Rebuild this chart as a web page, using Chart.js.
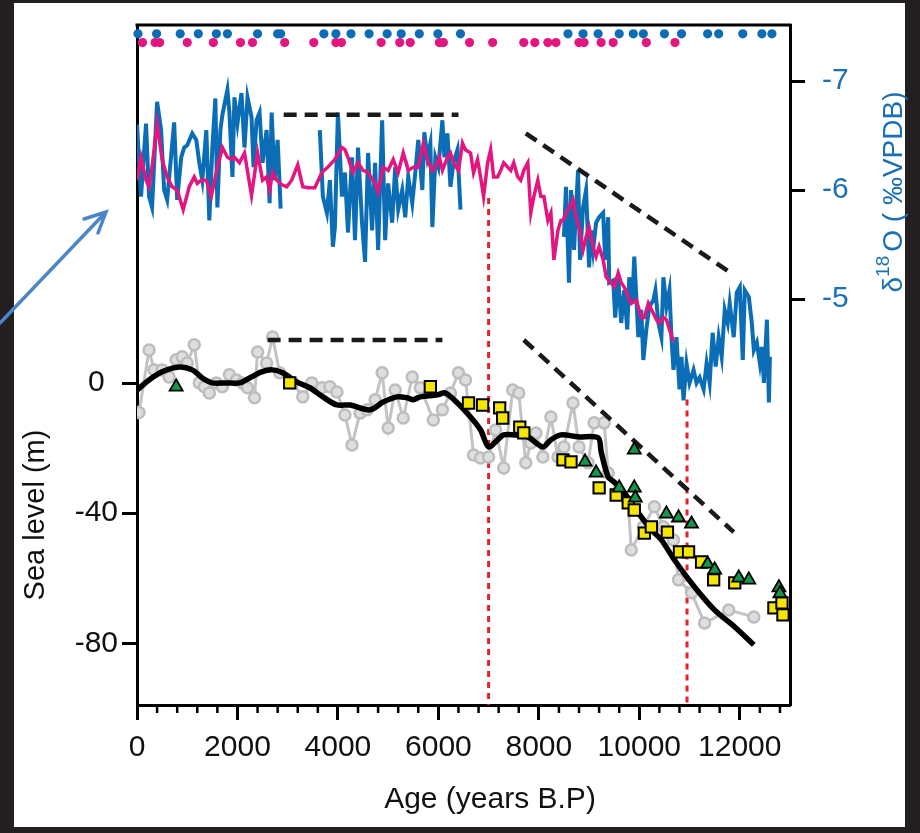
<!DOCTYPE html>
<html>
<head>
<meta charset="utf-8">
<script src="https://cdn.jsdelivr.net/npm/chart.js@4.4.0/dist/chart.umd.min.js"></script>
<style>
  html, body { margin: 0; padding: 0; background: #231f20; }
  #paper { position: absolute; left: 14px; top: 3px; width: 891px; height: 824px; background: #fff; }
  #chart { position: absolute; left: 0; top: 0; }
</style>
</head>
<body>
<div id="paper"></div>
<canvas id="chart" width="920" height="833"></canvas>
<script>
// --- data ---
const xTicks = [0, 2000, 4000, 6000, 8000, 10000, 12000];
const xMinorStep = 400;
const seaTicks = [-80, -40, 0];
const d18oTicks = [-7, -6, -5];

// speleothem d18O (blue), null = gap in record
const blueAge = [
  0, 80, 180, 240, 300, 400, 480, 540, 600, 740,
  800, 880, 940, 1000, 1100, 1180, 1240, 1300, 1380, 1440,
  1500, 1560, 1600, 1660, 1700, 1800, 1840, 1900, 1940, 2000,
  2080, 2140, 2200, 2280, 2320, 2380, 2440, 2500, 2580, 2640,
  2680, 2740, 2800, 2860, 3250, 3640, 3700, 3780, 3840, 3900,
  3940, 4000, 4080, 4140, 4200, 4280, 4340, 4400, 4480, 4540,
  4600, 4680, 4740, 4800, 4880, 4940, 5000, 5080, 5140, 5200,
  5280, 5340, 5400, 5480, 5540, 5600, 5680, 5720, 5780, 5840,
  5880, 5940, 6000, 6080, 6120, 6180, 6240, 6300, 6380, 6440,
  7500, 8500, 8540, 8600, 8640, 8700, 8780, 8820, 8880, 8940,
  9000, 9040, 9080, 9140, 9200, 9280, 9320, 9380, 9400, 9480,
  9520, 9580, 9640, 9700, 9760, 9800, 9860, 9900, 9980, 10040,
  10080, 10140, 10200, 10280, 10320, 10380, 10440, 10480, 10540, 10600,
  10640, 10680, 10740, 10800, 10840, 10880, 10940, 11000, 11080, 11140,
  11200, 11280, 11340, 11400, 11460, 11520, 11580, 11640, 11700, 11760,
  11800, 11880, 11940, 12000, 12060, 12100, 12180, 12240, 12280, 12340,
  12400, 12440, 12480, 12540, 12580, 12600
];
const blueD18O = [
  -6.60, -5.94, -6.61, -5.94, -5.84, -6.81, -6.55, -6.00, -5.91, -6.62,
  -5.91, -6.30, -6.39, -6.41, -6.52, -6.46, -6.25, -6.09, -6.55, -5.72,
  -6.39, -6.84, -5.84, -6.55, -6.69, -6.92, -6.71, -6.12, -6.85, -6.61,
  -6.89, -6.39, -6.85, -6.67, -6.21, -6.64, -6.71, -6.25, -6.55, -5.88,
  -6.71, -6.09, -6.46, -5.83, null, -6.55, -5.94, -5.79, -6.09, -5.48,
  -5.66, -6.71, -5.94, -6.16, -5.61, -6.30, -5.54, -6.39, -5.70, -5.34,
  -6.34, -5.63, -6.25, -5.45, -6.64, -5.54, -6.06, -5.70, -6.21, -5.82,
  -6.00, -5.75, -6.12, -5.88, -6.16, -6.46, -6.00, -6.53, -6.30, -6.43,
  -5.66, -6.30, -6.21, -6.64, -6.30, -6.52, -6.03, -6.25, -6.37, -5.82,
  null, -5.57, -6.03, -5.15, -6.00, -5.45, -6.18, -5.36, -5.84, -6.00,
  -5.29, -5.63, -5.45, -5.70, -5.75, -5.79, -5.36, -5.75, -5.15, -5.17,
  -4.83, -5.20, -4.78, -5.08, -4.72, -5.20, -4.96, -5.39, -4.65, -4.90,
  -4.44, -4.72, -4.93, -4.99, -5.08, -4.78, -4.65, -5.20, -4.93, -5.08,
  -4.65, -4.35, -4.65, -4.17, -4.47, -4.07, -4.41, -4.23, -4.35, -4.23,
  -4.28, -4.17, -4.41, -4.23, -4.69, -4.38, -4.65, -4.47, -4.90, -4.78,
  -4.96, -4.65, -5.06, -5.11, -4.44, -5.08, -5.02, -4.78, -4.53, -4.60,
  -4.41, -4.56, -4.23, -4.81, -4.05, -4.47
];

// second d18O record (magenta)
const pinkAge = [
  0, 80, 180, 240, 300, 400, 500, 600, 700, 800,
  920, 1040, 1140, 1200, 1280, 1380, 1480, 1600, 1700, 1800,
  1880, 1940, 2040, 2140, 2280, 2400, 2500, 2580, 2640, 2700,
  2780, 2880, 2980, 3080, 3200, 3300, 3400, 3540, 3680, 3800,
  3940, 4080, 4140, 4200, 4300, 4400, 4500, 4600, 4740, 4800,
  4900, 5000, 5100, 5200, 5300, 5400, 5500, 5600, 5700, 5800,
  5880, 5940, 6020, 6080, 6180, 6240, 6300, 6400, 6480, 6540,
  6640, 6700, 6780, 6840, 6900, 6980, 7040, 7100, 7180, 7240,
  7300, 7380, 7440, 7500, 7580, 7640, 7700, 7780, 7840, 7900,
  7980, 8040, 8100, 8180, 8240, 8300, 8380, 8440, 8480, 8580,
  8680, 8740, 8800, 8880, 8940, 9000, 9080, 9140, 9200, 9280,
  9340, 9400, 9500, 9580, 9640, 9700, 9780, 9840, 9940, 10040,
  10100, 10180, 10280, 10340, 10400, 10480, 10540, 10600, 10680
];
const pinkD18O = [
  -6.09, -6.30, -6.09, -6.03, -6.21, -6.61, -6.28, -6.12, -6.03, -6.00,
  -5.82, -6.03, -6.12, -6.06, -6.09, -6.09, -5.94, -6.21, -6.39, -6.30,
  -6.28, -6.30, -6.25, -6.34, -5.95, -6.34, -6.09, -6.12, -6.00, -6.16,
  -6.09, -6.05, -6.03, -6.09, -6.23, -6.03, -6.02, -6.02, -6.16, -6.21,
  -6.28, -6.39, -6.37, -6.30, -6.16, -6.25, -6.18, -6.16, -6.06, -5.98,
  -6.21, -6.18, -6.28, -6.16, -6.34, -6.18, -6.21, -6.21, -6.43, -6.25,
  -6.18, -6.21, -6.30, -6.18, -6.30, -6.34, -6.25, -6.18, -6.43, -6.37,
  -6.34, -6.16, -6.28, -6.12, -5.94, -6.25, -6.37, -6.12, -6.12, -6.18,
  -6.25, -6.21, -6.18, -6.25, -6.12, -6.09, -6.18, -6.25, -5.79, -5.94,
  -6.09, -5.94, -5.94, -5.72, -5.79, -5.36, -5.63, -5.72, -5.72, -5.82,
  -5.91, -5.75, -5.66, -5.45, -5.57, -5.66, -5.48, -5.39, -5.48, -5.36,
  -5.20, -5.17, -5.11, -5.24, -5.15, -5.11, -5.02, -4.96, -4.99, -4.83,
  -4.83, -4.96, -4.87, -4.81, -4.78, -4.83, -4.81, -4.72, -4.61
];

// sea level reconstruction (grey circles)
const seaAge = [
  40, 240, 340, 500, 640, 780, 900, 1000, 1140, 1240,
  1340, 1440, 1580, 1700, 1840, 1980, 2100, 2200, 2340, 2400,
  2580, 2700, 2840, 3100, 3300, 3480, 3680, 3840, 3980, 4140,
  4280, 4440, 4580, 4740, 4880, 5000, 5140, 5300, 5480, 5640,
  5900, 6080, 6240, 6400, 6540, 6700, 6840, 7000, 7140, 7300,
  7480, 7600, 7740, 7840, 7940, 8080, 8240, 8380, 8500, 8680,
  8800, 8980, 9100, 9300, 9380, 9580, 9780, 9840, 10080, 10300,
  10480, 10680, 10780, 11040, 11300, 11780, 12280
];
const seaLevel = [
  -9.0, 10.2, 4.1, 4.1, 1.9, 7.2, 8.1, 6.2, 11.8, 0.1,
  -1.1, -3.0, 0.1, -1.1, 2.6, 1.0, 0.1, -1.4, -4.5, 9.6,
  6.2, 14.2, 3.2, 0.1, -4.2, 0.1, -1.4, -1.1, -2.7, -9.8,
  -19.0, -9.2, -8.2, -5.1, 3.2, -13.8, -2.1, -10.7, 1.9, -1.4,
  -11.3, -8.2, -3.0, 3.2, 1.0, -22.1, -23.0, -22.7, -14.4, -26.1,
  -2.1, -3.0, -24.5, -18.4, -15.3, -22.7, -10.4, -22.7, -19.6, -6.1,
  -19.6, -24.5, -12.2, -12.2, -27.6, -33.7, -36.8, -51.3, -44.2, -38.0,
  -44.2, -48.2, -60.5, -64.5, -73.8, -69.8, -71.9
];

// smoothed sea level (black)
const smoothAge = [
  0, 240, 500, 840, 1100, 1300, 1500, 1780, 2040, 2240,
  2480, 2700, 2900, 3180, 3440, 3700, 3980, 4240, 4640, 4900,
  5180, 5380, 5500, 5640, 5980, 6140, 6380, 6640, 6840, 7000,
  7180, 7300, 7500, 7780, 8080, 8240, 8440, 8780, 9180, 9240,
  9380, 9500, 9700, 9980, 10240, 10440, 10700, 11100, 11500, 11900,
  12280
];
const smoothLevel = [
  -2.1, 1.0, 3.5, 5.0, 4.1, 1.6, 0.1, 0.1, 0.1, 1.6,
  3.5, 4.1, 3.2, 0.4, -1.4, -4.2, -6.7, -6.7, -8.2, -5.8,
  -4.2, -4.5, -5.1, -4.2, -3.6, -3.0, -6.1, -10.4, -14.4, -19.6,
  -17.4, -15.9, -15.9, -16.5, -19.6, -17.4, -15.9, -16.5, -16.8, -21.1,
  -28.8, -30.4, -33.7, -39.9, -45.1, -48.2, -54.4, -62.7, -69.8, -75.0,
  -80.5
];

// yellow squares
const squareAge = [
  3040, 5840, 6600, 6880, 7220, 7280, 7620, 7700, 8480, 8640,
  9200, 9540, 9780, 9900, 10100, 10240, 10560, 10800, 10980, 11240,
  11480, 11900, 12680, 12840, 12860
];
const squareLevel = [
  0.1, -1.1, -6.1, -6.7, -7.6, -10.7, -13.5, -15.3, -23.6, -24.2,
  -32.2, -34.4, -36.8, -39.0, -46.1, -44.2, -45.8, -51.9, -51.9, -55.0,
  -60.5, -61.4, -69.1, -67.6, -71.3
];

// green triangles
const triAge = [
  780, 8920, 9140, 9600, 9900, 9920, 9900, 10540, 10780, 11040,
  11360, 11500, 11980, 12180, 12780, 12800
];
const triLevel = [
  -1.1, -24.2, -27.6, -32.2, -32.2, -35.3, -20.5, -40.2, -41.4, -43.3,
  -55.6, -57.4, -59.9, -60.5, -62.9, -64.7
];

// dating points along the top
const blueDates = [20, 390, 860, 1220, 1580, 1800, 2400, 2800, 2860, 3720, 3960, 4260, 4620, 4980, 5260, 5620, 5990, 6440,
  8580, 8880, 9180, 9600, 9880, 10080, 10500, 10840, 11360, 11580, 12060, 12440, 12640];
const pinkDates = [110, 360, 450, 1000, 1520, 2060, 2300, 2940, 3520, 3960, 4070, 4860, 5230, 5440, 6020, 6100, 6620, 7080,
  7700, 7920, 8180, 8340, 8800, 8900, 9240, 9480, 10140, 10710];

// dashed trend lines
const trendD18OHolo = { age: [2920, 6400], val: [-6.69, -6.69] };
const trendD18ODegl = { age: [7740, 11880], val: [-6.52, -5.22] };
const trendSeaHolo = { age: [2600, 6080], val: [13.3, 13.3] };
const trendSeaDegl = { age: [7700, 11880], val: [13.3, -45.8] };

// red dotted event markers
const eventAge = [7000, 10950];
const eventTop = [57, -5];

// --- chart ---
const FONT = '"Liberation Sans", Arial, sans-serif';
const BLUE = '#0b6db5';
const PINK = '#e3157f';
const pts = (xs, ys) => xs.map((x, i) => ({ x: x, y: ys[i] }));

const seaMin = -99.0, seaMax = 110.2;
const d18Min = -7.514, d18Max = -1.275;

function trend(t, axis) {
  return {
    data: pts(t.age, t.val), yAxisID: axis, showLine: true, pointRadius: 0,
    borderColor: '#1a1a1a', borderWidth: 4.5, borderDash: [13, 8], borderCapStyle: 'butt'
  };
}
function eventLine(i) {
  return {
    data: [{ x: eventAge[i], y: eventTop[i] }, { x: eventAge[i], y: seaMin }], yAxisID: 'y',
    showLine: true, pointRadius: 0, borderColor: '#e8202a', borderWidth: 3, borderDash: [6, 5]
  };
}
function noPadY(s, w) {
  s.width = w;
  s.paddingTop = 0;
  s.paddingBottom = 0;
}

const decor = {
  id: 'decor',
  beforeDatasetsDraw(chart) {
    const { ctx, chartArea: a, scales: { x } } = chart;
    ctx.save();
    ctx.strokeStyle = '#000';
    ctx.lineWidth = 3;
    ctx.beginPath();
    ctx.moveTo(a.left - 1.5, a.top);
    ctx.lineTo(a.right + 1.5, a.top);
    ctx.stroke();
    ctx.lineWidth = 2.5;
    for (let v = xMinorStep; v < x.max; v += xMinorStep) {
      if (v % 2000 === 0) continue;
      const px = x.getPixelForValue(v);
      ctx.beginPath();
      ctx.moveTo(px, a.bottom);
      ctx.lineTo(px, a.bottom + 8);
      ctx.stroke();
    }
    ctx.restore();
  },
  afterDraw(chart) {
    const { ctx } = chart;
    ctx.save();
    ctx.textAlign = 'center';
    ctx.textBaseline = 'middle';
    ctx.fillStyle = '#111';
    ctx.font = '30px ' + FONT;
    ctx.fillText('Age (years B.P)', 490, 800);

    ctx.save();
    ctx.translate(36, 515);
    ctx.rotate(-Math.PI / 2);
    ctx.font = '29px ' + FONT;
    ctx.fillText('Sea level (m)', 0, 0);
    ctx.restore();

    // right axis title with superscript
    ctx.save();
    ctx.translate(892, 192);
    ctx.rotate(-Math.PI / 2);
    ctx.fillStyle = '#1b6fb3';
    ctx.textAlign = 'left';
    ctx.textBaseline = 'alphabetic';
    const big = '28px ' + FONT, small = '19px ' + FONT;
    const parts = [['\u03B4', big, 0], ['18', small, -13], ['O ( \u2030VPDB)', big, 0]];
    let w = 0;
    parts.forEach(p => { ctx.font = p[1]; w += ctx.measureText(p[0]).width + (p[0] === '18' ? 4 : 0); });
    let cx = -w / 2;
    parts.forEach(p => {
      ctx.font = p[1];
      ctx.fillText(p[0], cx, 10 + p[2]);
      cx += ctx.measureText(p[0]).width + (p[0] === '18' ? 4 : 0);
    });
    ctx.restore();

    // blue arrow pointing at the record
    ctx.strokeStyle = '#4a86c8';
    ctx.lineWidth = 3.5;
    ctx.lineCap = 'round';
    ctx.beginPath();
    ctx.moveTo(0, 323);
    ctx.lineTo(105, 213);
    ctx.moveTo(84, 219);
    ctx.lineTo(106, 212);
    ctx.lineTo(98, 233);
    ctx.stroke();
    ctx.restore();
  }
};

new Chart(document.getElementById('chart'), {
  type: 'scatter',
  data: {
    datasets: [
      { data: blueDates.map(a => ({ x: a, y: 107.5 })), yAxisID: 'y', pointRadius: 4.6, pointBackgroundColor: BLUE, pointBorderWidth: 0, clip: false },
      { data: pinkDates.map(a => ({ x: a, y: 104.8 })), yAxisID: 'y', pointRadius: 4.6, pointBackgroundColor: PINK, pointBorderWidth: 0, clip: false },
      { data: pts(triAge, triLevel), yAxisID: 'y', pointStyle: 'triangle', pointRadius: 7.5, pointBackgroundColor: '#14964a', pointBorderColor: '#000', pointBorderWidth: 1.8, clip: false },
      { data: pts(squareAge, squareLevel), yAxisID: 'y', pointStyle: 'rect', pointRadius: 8, pointBackgroundColor: '#f4e600', pointBorderColor: '#000', pointBorderWidth: 2, clip: false },
      trend(trendD18OHolo, 'y2'),
      trend(trendD18ODegl, 'y2'),
      trend(trendSeaHolo, 'y'),
      trend(trendSeaDegl, 'y'),
      { data: pts(smoothAge, smoothLevel), yAxisID: 'y', showLine: true, pointRadius: 0, borderColor: '#000', borderWidth: 5.5, tension: 0.3 },
      { data: pts(seaAge, seaLevel), yAxisID: 'y', showLine: true, borderColor: '#c3c3c5', borderWidth: 3,
        pointRadius: 5.5, pointBackgroundColor: '#dedee0', pointBorderColor: '#bdbdbf', pointBorderWidth: 2.5 },
      eventLine(0),
      eventLine(1),
      { data: pts(pinkAge, pinkD18O), yAxisID: 'y2', showLine: true, pointRadius: 0, borderColor: PINK, borderWidth: 3.5 },
      { data: pts(blueAge, blueD18O), yAxisID: 'y2', showLine: true, spanGaps: false, pointRadius: 0, borderColor: BLUE, borderWidth: 4 }
    ]
  },
  options: {
    responsive: false,
    animation: false,
    devicePixelRatio: 1,
    events: [],
    layout: { padding: { left: 0, right: 0, top: 25, bottom: 0 } },
    plugins: { legend: { display: false }, tooltip: { enabled: false } },
    scales: {
      x: {
        type: 'linear', position: 'bottom', min: 0, max: 13000,
        afterBuildTicks: s => { s.ticks = xTicks.map(v => ({ value: v })); },
        afterFit: s => { s.height = 128; s.paddingLeft = 0; s.paddingRight = 0; },
        grid: { drawOnChartArea: false, drawTicks: true, tickLength: 15, tickWidth: 3, tickColor: '#000' },
        border: { display: true, color: '#000', width: 3 },
        ticks: { color: '#111', padding: 10, maxRotation: 0, autoSkip: false, font: { family: FONT, size: 30 },
          callback: v => String(v) }
      },
      y: {
        type: 'linear', position: 'left', min: seaMin, max: seaMax,
        afterBuildTicks: s => { s.ticks = seaTicks.map(v => ({ value: v })); },
        afterFit: s => noPadY(s, 137),
        grid: { drawOnChartArea: false, drawTicks: true, tickLength: 15, tickWidth: 3, tickColor: '#000' },
        border: { display: true, color: '#000', width: 3 },
        ticks: { color: '#111', padding: 4, crossAlign: 'center', font: { family: FONT, size: 30 } }
      },
      y2: {
        type: 'linear', position: 'right', reverse: true, min: d18Min, max: d18Max,
        afterBuildTicks: s => { s.ticks = d18oTicks.map(v => ({ value: v })); },
        afterFit: s => noPadY(s, 130),
        grid: { drawOnChartArea: false, drawTicks: true, tickLength: 15, tickWidth: 3, tickColor: '#000' },
        border: { display: true, color: '#000', width: 3 },
        ticks: { color: '#1b6fb3', padding: 17, font: { family: FONT, size: 30 } }
      }
    }
  },
  plugins: [decor]
});
</script>
</body>
</html>
